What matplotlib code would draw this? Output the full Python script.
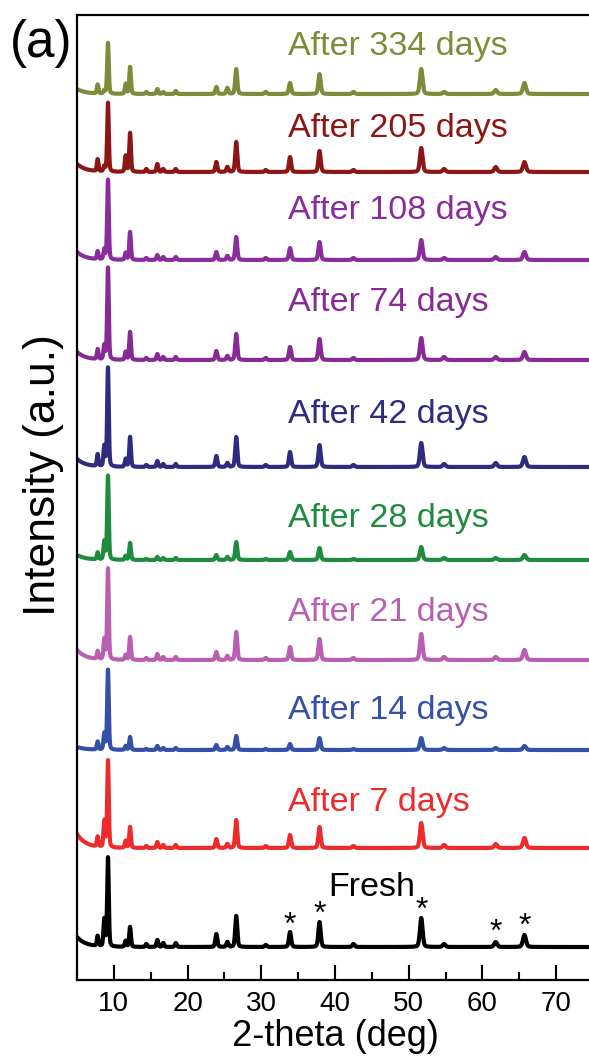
import numpy as np
import matplotlib
matplotlib.use("Agg")
import matplotlib.pyplot as plt
from matplotlib.ticker import MultipleLocator

plt.rcParams['font.family'] = ['Liberation Sans', 'DejaVu Sans']

# ---- data ----
peak_pos = [7.8, 8.7, 9.2, 11.6, 12.2, 14.4, 15.9, 16.7, 18.4, 23.9, 25.4, 26.6,
            30.6, 33.9, 37.9, 42.5, 51.7, 54.8, 61.8, 65.7]

labels = ["Fresh", "After 7 days", "After 14 days", "After 21 days", "After 28 days",
          "After 42 days", "After 74 days", "After 108 days", "After 205 days",
          "After 334 days"]
colors = ["#000000", "#ee2b2b", "#3550a8", "#b95fb2", "#1f8b3f",
          "#2f2b7f", "#862a94", "#8a2d9c", "#8c1616", "#7f8b3a"]

# peak heights (a.u.) for each pattern, same order as peak_pos
h_fresh = [10, 27, 89, 6, 20, 3, 7, 4, 4, 13, 5, 31, 2, 15, 25, 3, 29, 3, 5, 12]
h_7 = [10, 26, 87, 7, 21, 2, 6, 3, 3, 9, 4, 28, 2, 13, 21, 2, 25, 3, 4, 10]
h_14 = [8, 16, 80, 4, 13, 1, 4, 2, 2, 5, 3, 14, 1, 6, 12, 1, 12, 2, 2, 4]
h_21 = [8, 20, 91, 5, 23, 2, 6, 3, 3, 8, 4, 28, 2, 13, 21, 2, 26, 3, 3, 10]
h_28 = [7, 18, 84, 4, 17, 1, 3, 2, 2, 5, 3, 18, 1, 8, 12, 1, 13, 2, 2, 5]
h_42 = [12, 20, 99, 8, 30, 2, 6, 3, 3, 11, 4, 30, 2, 15, 22, 2, 24, 3, 4, 10]
h_74 = [10, 14, 92, 8, 28, 2, 6, 3, 3, 9, 4, 26, 2, 13, 21, 2, 22, 3, 3, 8]
h_108 = [8, 10, 80, 7, 28, 2, 5, 3, 3, 8, 4, 23, 2, 12, 18, 2, 20, 2, 3, 8]
h_205 = [12, 5, 69, 16, 39, 3, 8, 3, 3, 10, 5, 30, 2, 15, 21, 2, 24, 3, 5, 10]
h_334 = [9, 3, 51, 10, 27, 2, 5, 2, 3, 7, 6, 25, 2, 11, 20, 2, 25, 2, 4, 11]
heights = [h_fresh, h_7, h_14, h_21, h_28, h_42, h_74, h_108, h_205, h_334]

# low-angle background level at 5 deg (a.u.)
low_bg = [10, 14, 3, 10, 5, 8, 8, 8, 8, 5]

# stacking offsets of each pattern (a.u.)
offsets = [33, 132, 230, 320, 420, 513, 620, 720, 808, 886]

# label anchor (2-theta, intensity) for each curve label
label_x = [39.1, 33.6, 33.6, 33.6, 33.6, 33.6, 33.6, 33.6, 33.6, 33.6]
label_y = [92, 177, 270, 367, 461, 565, 677, 769, 852, 933]

# starred reflections on the fresh pattern
star_x = [33.9, 37.9, 51.7, 61.8, 65.7]
star_y = [54, 65, 69, 47, 53]

# ---- figure ----
W, H = 589, 1060
fig = plt.figure(figsize=(W / 100, H / 100), dpi=100)
ax = fig.add_axes([77 / W, 80 / H, (593 - 77) / W, (980 - 15) / H])

tt = np.linspace(5, 75, 7001)

def pattern(h, bg):
    y = bg * np.exp(-(tt - 5) / 1.2)
    for p, a in zip(peak_pos, h):
        fw = 0.22 + 0.004 * p
        s = fw / 2.355
        y = y + a * (0.7 * np.exp(-0.5 * ((tt - p) / s) ** 2)
                     + 0.3 / (1 + ((tt - p) / (fw / 2)) ** 2))
    return y

for lab, c, h, bg, off, lx, ly in zip(labels, colors, heights, low_bg, offsets,
                                      label_x, label_y):
    ax.plot(tt, pattern(h, bg) + off, color=c, lw=3.0, solid_joinstyle='round')
    ax.text(lx, ly, lab, color=c, fontsize=24.5, ha='left', va='center')

for sx, sy in zip(star_x, star_y):
    ax.text(sx, sy, "*", fontsize=23, ha='center', va='center', color='black')

ax.set_xlim(5, 75)
ax.set_ylim(0, 965)
ax.xaxis.set_major_locator(MultipleLocator(10))
ax.xaxis.set_minor_locator(MultipleLocator(5))
ax.set_yticks([])
ax.tick_params(axis='x', which='major', direction='in', length=11, width=1.5,
               labelsize=20, pad=8)
ax.tick_params(axis='x', which='minor', direction='in', length=6, width=1.5)
for sp in ax.spines.values():
    sp.set_linewidth(1.6)
ax.set_xlabel("2-theta (deg)", fontsize=26, labelpad=1)
ax.set_ylabel("Intensity (a.u.)", fontsize=32)
ax.yaxis.set_label_coords(-(77 - 64) / (593 - 77), (980 - 475) / 965)

fig.text(41 / W, 1 - 43 / H, "(a)", fontsize=37, ha='center', va='center')

fig.savefig("out.png", dpi=100)
